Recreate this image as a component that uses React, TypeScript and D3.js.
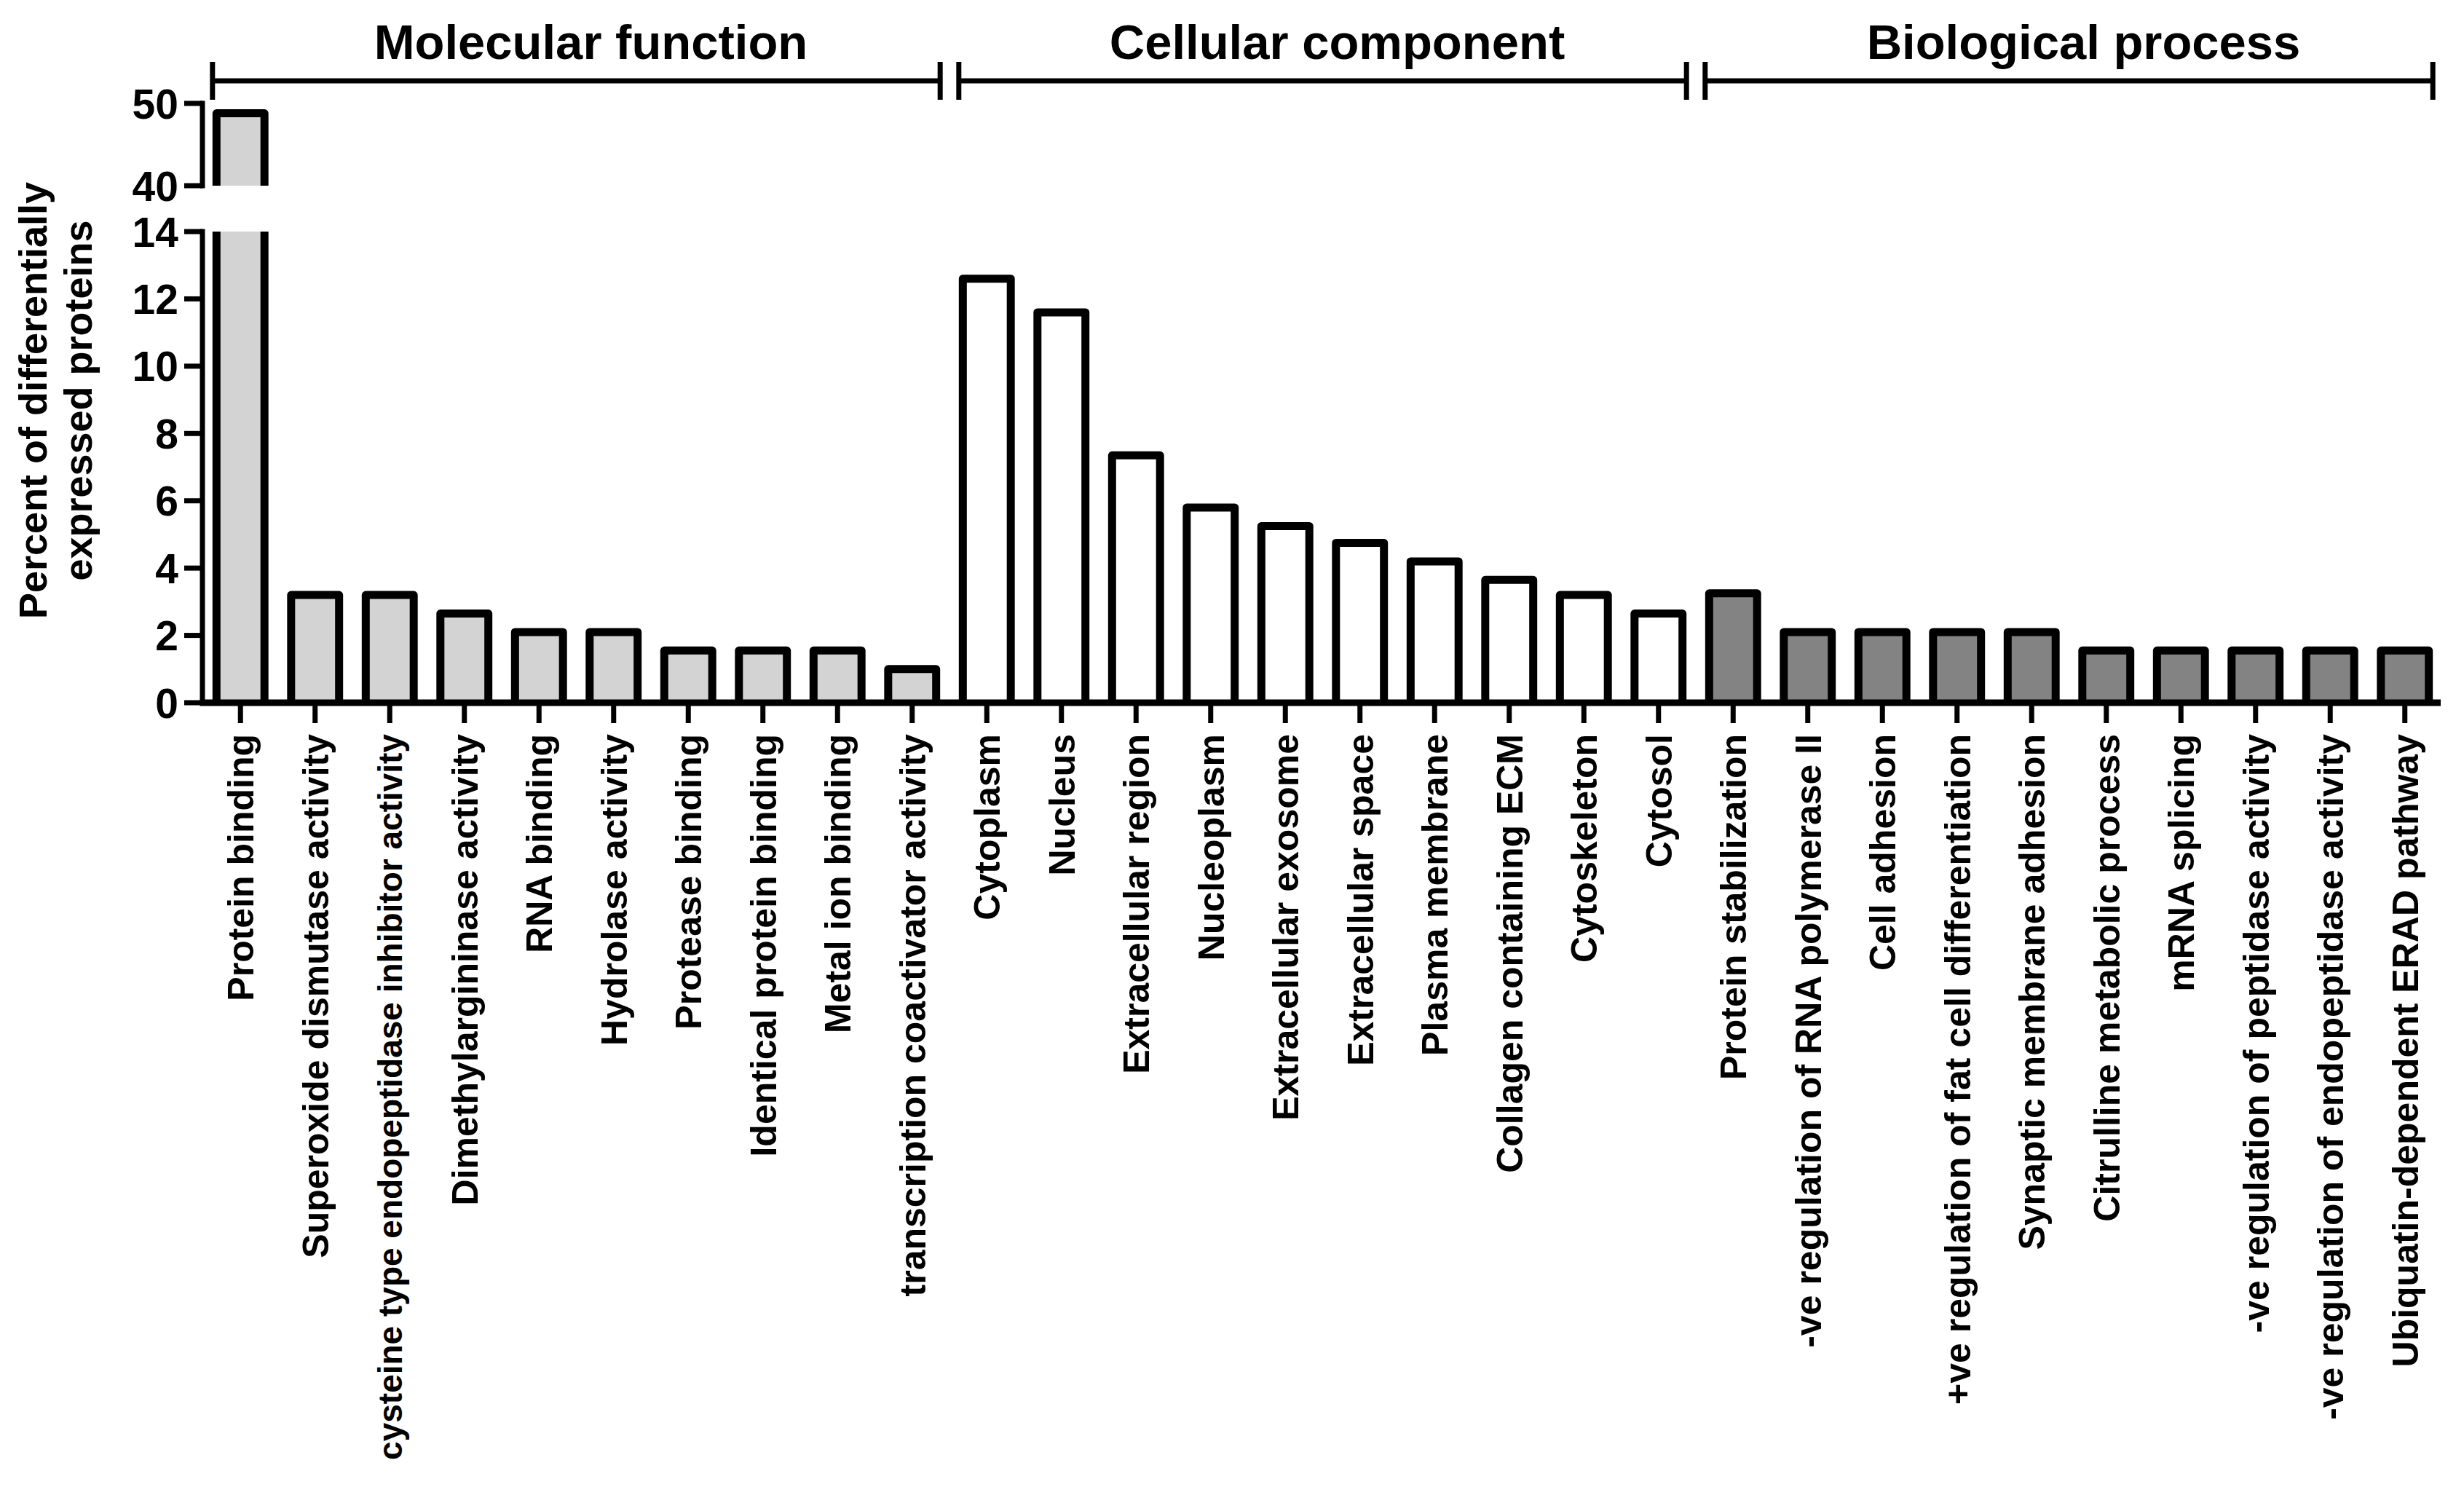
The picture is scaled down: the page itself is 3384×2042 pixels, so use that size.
import React from "react";
import * as d3 from "d3";

const mfCategories = [
  "Protein binding",
  "Superoxide dismutase activity",
  "cysteine type endopeptidase inhibitor activity",
  "Dimethylargininase activity",
  "RNA binding",
  "Hydrolase activity",
  "Protease binding",
  "Identical protein binding",
  "Metal ion binding",
  "transcription coactivator activity",
];
const mfValues = [48.8, 3.2, 3.2, 2.65, 2.1, 2.1, 1.55, 1.55, 1.55, 1.0];

const ccCategories = [
  "Cytoplasm",
  "Nucleus",
  "Extracellular region",
  "Nucleoplasm",
  "Extracellular exosome",
  "Extracellular space",
  "Plasma membrane",
  "Collagen containing ECM",
  "Cytoskeleton",
  "Cytosol",
];
const ccValues = [12.6, 11.6, 7.35, 5.8, 5.25, 4.75, 4.2, 3.65, 3.2, 2.65];

const bpCategories = [
  "Protein stabilization",
  "-ve regulation of RNA polymerase II",
  "Cell adhesion",
  "+ve regulation of fat cell differentiation",
  "Synaptic membrane adhesion",
  "Citrulline metabolic process",
  "mRNA splicing",
  "-ve regulation of peptidase activity",
  "-ve regulation of endopeptidase activity",
  "Ubiquatin-dependent ERAD pathway",
];
const bpValues = [3.25, 2.1, 2.1, 2.1, 2.1, 1.55, 1.55, 1.55, 1.55, 1.55];

const groupNames = ["Molecular function", "Cellular component", "Biological process"];
const lowerTicks = [0, 2, 4, 6, 8, 10, 12, 14];
const upperTicks = [40, 50];
const yTitleLines = ["Percent of differentially", "expressed proteins"];

const groupFills = ["#d3d3d3", "#ffffff", "#838383"];

export default function App() {
  const W = 3384;
  const H = 2042;
  const font = "'Liberation Sans', Arial, Helvetica, sans-serif";

  const groups = [
    { name: groupNames[0], cats: mfCategories, vals: mfValues, fill: groupFills[0] },
    { name: groupNames[1], cats: ccCategories, vals: ccValues, fill: groupFills[1] },
    { name: groupNames[2], cats: bpCategories, vals: bpValues, fill: groupFills[2] },
  ];
  const data = groups.flatMap((g, gi) =>
    g.cats.map((c, i) => ({ cat: c, val: g.vals[i], fill: g.fill, group: gi }))
  );

  const x = d3
    .scaleBand<string>()
    .domain(data.map((d) => d.cat))
    .range([279, 3354])
    .paddingInner(0.25)
    .paddingOuter(0.125);
  const bw = x.bandwidth();

  const yLow = d3.scaleLinear().domain([0, 14]).range([965, 318]);
  const yUp = d3.scaleLinear().domain([40, 50]).range([255, 142]);

  const axisX = 278;
  const sw = 11;

  const barPath = (x0: number, x1: number, yb: number, yt: number, top: boolean) =>
    top
      ? `M${x0},${yb} V${yt} H${x1} V${yb}`
      : `M${x0},${yb} V${yt} M${x1},${yt} V${yb}`;

  return (
    <svg
      width={W}
      height={H}
      viewBox={`0 0 ${W} ${H}`}
      style={{ position: "absolute", left: 0, top: 0, background: "#fff" }}
      fontFamily={font}
    >
      <rect x={0} y={0} width={W} height={H} fill="#fff" />

      {/* Bars */}
      {data.map((d, i) => {
        const x0 = (x(d.cat) as number) + sw / 2;
        const x1 = (x(d.cat) as number) + bw - sw / 2;
        if (d.val > 14) {
          const yt1 = yLow(14);
          const yb = yLow(0);
          const yt2 = yUp(d.val);
          const yb2 = yUp(40);
          return (
            <g key={i}>
              <rect x={x0} y={yt1} width={x1 - x0} height={yb - yt1} fill={d.fill} />
              <path d={barPath(x0, x1, yb, yt1, false)} fill="none" stroke="#000" strokeWidth={sw} />
              <rect x={x0} y={yt2} width={x1 - x0} height={yb2 - yt2} fill={d.fill} />
              <path
                d={barPath(x0, x1, yb2, yt2, true)}
                fill="none"
                stroke="#000"
                strokeWidth={sw}
                strokeLinejoin="round"
              />
            </g>
          );
        }
        const yt = yLow(d.val);
        const yb = yLow(0);
        return (
          <g key={i}>
            <rect x={x0} y={yt} width={x1 - x0} height={yb - yt} fill={d.fill} />
            <path
              d={barPath(x0, x1, yb, yt, true)}
              fill="none"
              stroke="#000"
              strokeWidth={sw}
              strokeLinejoin="round"
            />
          </g>
        );
      })}

      {/* Y axis lower */}
      <line x1={axisX} x2={axisX} y1={yLow(14) - 3.5} y2={yLow(0)} stroke="#000" strokeWidth={7} />
      {lowerTicks.map((t) => (
        <g key={"lt" + t}>
          <line x1={253} x2={axisX} y1={yLow(t)} y2={yLow(t)} stroke="#000" strokeWidth={7} />
          <text x={245} y={yLow(t)} dy="0.36em" textAnchor="end" fontSize={57} fontWeight="bold">
            {t}
          </text>
        </g>
      ))}
      {/* Y axis upper */}
      <line x1={axisX} x2={axisX} y1={yUp(50) - 3.5} y2={yUp(40) + 3.5} stroke="#000" strokeWidth={7} />
      {upperTicks.map((t) => (
        <g key={"ut" + t}>
          <line x1={253} x2={axisX} y1={yUp(t)} y2={yUp(t)} stroke="#000" strokeWidth={7} />
          <text x={245} y={yUp(t)} dy="0.36em" textAnchor="end" fontSize={57} fontWeight="bold">
            {t}
          </text>
        </g>
      ))}

      {/* X axis */}
      <line x1={axisX - 3.5} x2={3352} y1={yLow(0)} y2={yLow(0)} stroke="#000" strokeWidth={9} />
      {data.map((d, i) => {
        const cx = (x(d.cat) as number) + bw / 2;
        return (
          <g key={"xt" + i}>
            <line x1={cx} x2={cx} y1={yLow(0)} y2={993} stroke="#000" strokeWidth={7} />
            <text
              transform={`translate(${cx},1008) rotate(-90)`}
              dy="0.36em"
              textAnchor="end"
              fontSize={d.cat.startsWith("cysteine") ? 46 : 50}
              fontWeight="bold"
            >
              {d.cat}
            </text>
          </g>
        );
      })}

      {/* Y axis title */}
      <text transform={`translate(64,550) rotate(-90)`} textAnchor="middle" fontSize={54} fontWeight="bold">
        {yTitleLines[0]}
      </text>
      <text transform={`translate(126,550) rotate(-90)`} textAnchor="middle" fontSize={54} fontWeight="bold">
        {yTitleLines[1]}
      </text>

      {/* Group brackets */}
      {groups.map((g, gi) => {
        const xa = x(g.cats[0]) as number;
        const xb = (x(g.cats[g.cats.length - 1]) as number) + bw;
        const by = 111;
        return (
          <g key={"gb" + gi}>
            <line x1={xa} x2={xb} y1={by} y2={by} stroke="#000" strokeWidth={7} />
            <line x1={xa} x2={xa} y1={85} y2={137} stroke="#000" strokeWidth={7} />
            <line x1={xb} x2={xb} y1={85} y2={137} stroke="#000" strokeWidth={7} />
            <text x={(xa + xb) / 2 + 20} y={81} textAnchor="middle" fontSize={67} fontWeight="bold">
              {g.name}
            </text>
          </g>
        );
      })}
    </svg>
  );
}
